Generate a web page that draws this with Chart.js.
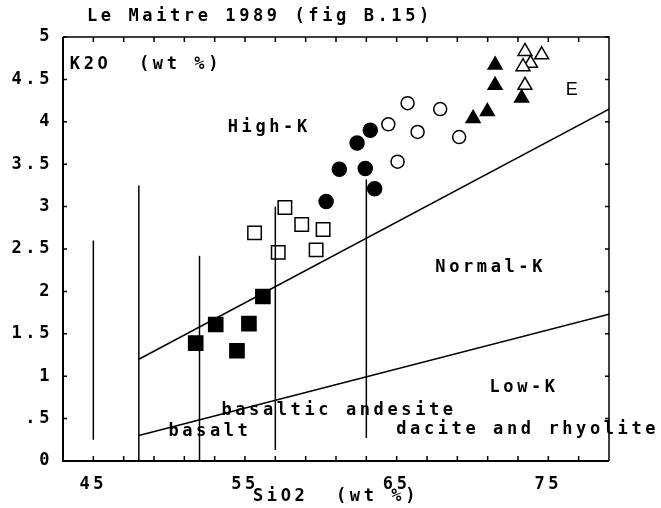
<!DOCTYPE html>
<html>
<head>
<meta charset="utf-8">
<script src="https://cdn.jsdelivr.net/npm/chart.js@4"></script>
<style>
  html, body { margin: 0; padding: 0; background: #fff; }
</style>
</head>
<body>
<canvas id="chart" width="661" height="508"></canvas>
<script>
// Sample groups (SiO2 wt %, K2O wt %)
const filledSquareX = [51.75, 53.07, 54.47, 55.26, 56.18];
const filledSquareY = [1.39, 1.61, 1.30, 1.62, 1.94];
const openSquareX = [55.63, 57.19, 57.63, 58.74, 59.69, 60.15];
const openSquareY = [2.69, 2.46, 2.99, 2.79, 2.49, 2.73];
const filledCircleX = [60.35, 61.22, 62.39, 63.26, 62.93, 63.55];
const filledCircleY = [3.06, 3.44, 3.75, 3.90, 3.45, 3.21];
const openCircleX = [64.45, 65.72, 65.06, 66.38, 67.87, 69.12];
const openCircleY = [3.97, 4.22, 3.53, 3.88, 4.15, 3.82];
const filledTriangleX = [70.04, 70.98, 71.49, 71.49, 73.24];
const filledTriangleY = [4.04, 4.12, 4.43, 4.67, 4.28];
const openTriangleX = [73.46, 74.56, 73.83, 73.33, 73.46];
const openTriangleY = [4.83, 4.79, 4.69, 4.65, 4.43];

// Field boundaries
const highKLineX = [48, 79];
const highKLineY = [1.2, 4.15];
const lowKLineX = [48, 79];
const lowKLineY = [0.3, 1.73];
const dividerX = [45, 48, 52, 57, 63];
const dividerBottom = [0.25, 0, 0, 0.13, 0.27];
const dividerTop = [2.6, 3.25, 2.42, 3.0, 3.32];

// Axes
const xTickLabels = [45, 55, 65, 75];
const xMinorTicks = [45, 47, 49, 51, 53, 55, 57, 59, 61, 63, 65, 67, 69, 71, 73, 75, 77];
const yTickValues = [0, 0.5, 1, 1.5, 2, 2.5, 3, 3.5, 4, 4.5, 5];
const yTickLabels = ['0', '.5', '1', '1.5', '2', '2.5', '3', '3.5', '4', '4.5', '5'];

const monoFont = { family: "'DejaVu Sans Mono', monospace", size: 17, weight: 'bold' };
const spacing = '3.6px';

// Text placed in data coordinates
const notes = [
    { text: 'K2O  (wt %)', x: 43.45, y: 4.67, align: 'left' },
    { text: 'High-K', x: 56.6, y: 3.93, align: 'center' },
    { text: 'Normal-K', x: 71.2, y: 2.28, align: 'center' },
    { text: 'Low-K', x: 73.4, y: 0.86, align: 'center' },
    { text: 'basaltic andesite', x: 61.2, y: 0.59, align: 'center' },
    { text: 'basalt', x: 49.95, y: 0.35, align: 'left' },
    { text: 'dacite and rhyolite', x: 64.97, y: 0.365, align: 'left' }
];

function toPoints(xs, ys) {
    return xs.map((x, i) => ({ x: x, y: ys[i] }));
}

function pointSet(label, xs, ys, style, filled, radius) {
    return {
        label: label,
        data: toPoints(xs, ys),
        pointStyle: style,
        pointRadius: radius,
        pointHoverRadius: radius,
        pointBackgroundColor: filled ? '#000' : '#fff',
        pointBorderColor: '#000',
        pointBorderWidth: 1.5,
        showLine: false
    };
}

function lineSet(xs, ys) {
    return {
        data: toPoints(xs, ys),
        showLine: true,
        borderColor: '#000',
        borderWidth: 1.5,
        pointRadius: 0,
        fill: false
    };
}

const datasets = [];
datasets.push(lineSet(highKLineX, highKLineY));
datasets.push(lineSet(lowKLineX, lowKLineY));
dividerX.forEach((x, i) => {
    datasets.push(lineSet([x, x], [dividerBottom[i], dividerTop[i]]));
});
datasets.push(pointSet('filled squares', filledSquareX, filledSquareY, 'rect', true, 10));
datasets.push(pointSet('open squares', openSquareX, openSquareY, 'rect', false, 9.5));
datasets.push(pointSet('filled circles', filledCircleX, filledCircleY, 'circle', true, 7));
datasets.push(pointSet('open circles', openCircleX, openCircleY, 'circle', false, 6.5));
datasets.push(pointSet('filled triangles', filledTriangleX, filledTriangleY, 'triangle', true, 8));
datasets.push(pointSet('open triangles', openTriangleX, openTriangleY, 'triangle', false, 8));

// Frame, inward tick marks and text labels
const decorPlugin = {
    id: 'decor',
    beforeDraw(chart) {
        chart.ctx.letterSpacing = spacing;
    },
    afterDraw(chart) {
        const ctx = chart.ctx;
        const { left, right, top, bottom } = chart.chartArea;
        const xs = chart.scales.x;
        const ys = chart.scales.y;
        ctx.save();
        ctx.strokeStyle = '#000';

        ctx.lineWidth = 1.5;
        ctx.beginPath();
        ctx.moveTo(left, top); ctx.lineTo(right, top); ctx.lineTo(right, bottom);
        ctx.stroke();
        ctx.lineWidth = 2;
        ctx.beginPath();
        ctx.moveTo(left, top); ctx.lineTo(left, bottom); ctx.lineTo(right, bottom);
        ctx.stroke();

        ctx.lineWidth = 1.5;
        ctx.beginPath();
        xMinorTicks.forEach(v => {
            const px = xs.getPixelForValue(v);
            ctx.moveTo(px, bottom); ctx.lineTo(px, bottom - 5);
            ctx.moveTo(px, top); ctx.lineTo(px, top + 5);
        });
        yTickValues.forEach(v => {
            const py = ys.getPixelForValue(v);
            ctx.moveTo(left, py); ctx.lineTo(left + 4, py);
            ctx.moveTo(right, py); ctx.lineTo(right - 4, py);
        });
        ctx.stroke();

        ctx.fillStyle = '#000';
        ctx.textBaseline = 'middle';
        ctx.letterSpacing = spacing;
        ctx.font = 'bold 17px ' + monoFont.family;
        notes.forEach(n => {
            ctx.textAlign = n.align;
            ctx.fillText(n.text, xs.getPixelForValue(n.x), ys.getPixelForValue(n.y));
        });

        ctx.textAlign = 'left';
        ctx.fillText('Le Maitre 1989 (fig B.15)', 87, 17);

        ctx.letterSpacing = '0px';
        ctx.font = "18px 'Liberation Sans', Arial, sans-serif";
        ctx.textAlign = 'center';
        ctx.fillText('E', xs.getPixelForValue(76.55), ys.getPixelForValue(4.37));
        ctx.restore();
    }
};

new Chart(document.getElementById('chart'), {
    type: 'scatter',
    data: { datasets: datasets },
    options: {
        responsive: false,
        animation: false,
        layout: { padding: { left: 0, top: 37, right: 52, bottom: 0 } },
        plugins: {
            legend: { display: false },
            tooltip: { enabled: false },
            title: { display: false }
        },
        scales: {
            x: {
                type: 'linear',
                min: 43,
                max: 79,
                afterBuildTicks: s => { s.ticks = xTickLabels.map(v => ({ value: v })); },
                afterFit: s => { s.height = 47; },
                grid: { display: false, drawTicks: false },
                border: { display: false },
                ticks: {
                    color: '#000',
                    font: monoFont,
                    padding: 13,
                    autoSkip: false,
                    maxRotation: 0,
                    callback: v => String(v)
                },
                title: {
                    display: true,
                    text: 'SiO2  (wt %)',
                    color: '#000',
                    font: monoFont,
                    padding: { top: 0, bottom: 1 }
                }
            },
            y: {
                type: 'linear',
                min: 0,
                max: 5,
                afterBuildTicks: s => { s.ticks = yTickValues.map(v => ({ value: v })); },
                afterFit: s => { s.width = 63; },
                grid: { display: false, drawTicks: false },
                border: { display: false },
                ticks: {
                    color: '#000',
                    font: monoFont,
                    padding: 10,
                    autoSkip: false,
                    callback: (v, i) => yTickLabels[i]
                }
            }
        }
    },
    plugins: [decorPlugin]
});
</script>
</body>
</html>
